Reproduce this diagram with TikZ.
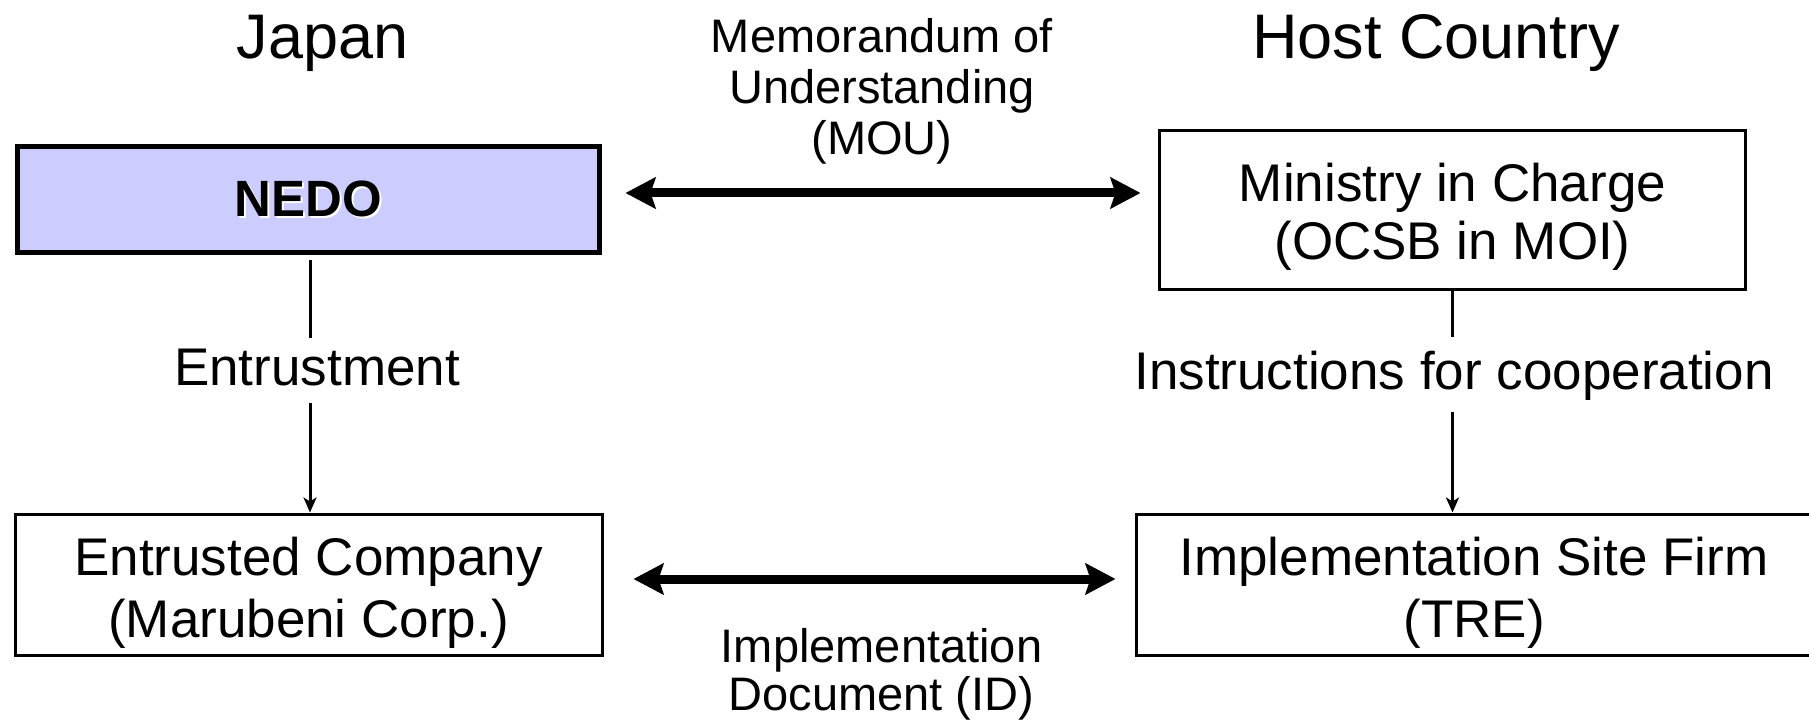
\documentclass[tikz,border=0pt]{standalone}
\usepackage{fontspec}
\setmainfont{Liberation Sans}
\usepackage{xcolor}
\usetikzlibrary{arrows.meta}
\definecolor{nedoblue}{HTML}{CCCCFF}
\begin{document}
\begin{tikzpicture}[x=0.5pt, y=-0.5pt, every node/.style={inner sep=0pt, align=center}, box/.style={draw, line width=1.5pt, minimum height=70.5pt, text height=52.7pt, text depth=0pt, font=\fontsize{26.5}{31}\selectfont}, label/.style={anchor=base, font=\fontsize{26.5}{31}\selectfont}, head/.style={anchor=base, font=\fontsize{31.5}{36}\selectfont}, small/.style={anchor=base, font=\fontsize{23.5}{25.5}\selectfont}, thin/.style={line width=1.5pt}, thinarrow/.style={line width=1.5pt, -{Stealth[length=7.5pt, width=6.5pt, inset=2pt]}}, bigarrow/.style={line width=4.5pt, {Stealth[length=15pt, width=15.5pt, inset=2.5pt]}-{Stealth[length=15pt, width=15.5pt, inset=2.5pt]}}]
  \useasboundingbox (0,0) rectangle (1809,721);
  \node[head] (japan) at (322.5,59) {Japan};
  \node[head] (host) at (1436,59) {Host Country};
  \node[draw, line width=2.5pt, fill=nedoblue, minimum width=291pt, minimum height=53pt, font=\fontsize{25.5}{30}\selectfont\bfseries] (nedo) at (308.5,199.5) {\rlap{\raisebox{-1pt}{\hspace{1pt}\color{white}NEDO}}NEDO};
  \node[box, minimum width=293pt, minimum height=79.5pt, text height=48.7pt, font=\fontsize{26.5}{29}\selectfont] (ministry) at (1452.5,210.5) {Ministry in Charge\\(OCSB in MOI)};
  \node[box, minimum width=293.5pt] (entrusted) at (308.5,584.5) {Entrusted Company\\(Marubeni Corp.)};
  \node[box, minimum width=338pt] (site) at (1474,584.5) {Implementation Site Firm\\(TRE)};
  \node[small] (mou) at (882,155) {Memorandum of\\Understanding\\(MOU)};
  \node[small, font=\fontsize{23.5}{24}\selectfont] (id) at (881.5,710) {Implementation\\Document (ID)};
  \node[label] (entrust) at (317,386) {Entrustment};
  \node[label] (instr) at (1454,390) {Instructions for cooperation};
  \draw[bigarrow, shorten <=11.75pt, shorten >=8.75pt] ([yshift=3.25pt]nedo.east) -- ([yshift=3.25pt]nedo.east -| ministry.west);
  \draw[bigarrow, shorten <=15pt, shorten >=9.5pt] ([yshift=2.75pt]entrusted.east) -- ([yshift=2.75pt]site.west);
  \draw[thin, shorten <=2.75pt] ([xshift=0.75pt]nedo.south) -- ([xshift=0.75pt]nedo.south |- 0,338);
  \draw[thinarrow] ([xshift=0.75pt]nedo.south |- 0,403) -- ([xshift=0.75pt]nedo.south |- entrusted.north);
  \draw[thin] (ministry.south) -- (ministry.south |- 0,337);
  \draw[thinarrow] (ministry.south |- 0,412) -- (ministry.south |- site.north);
\end{tikzpicture}
\end{document}
